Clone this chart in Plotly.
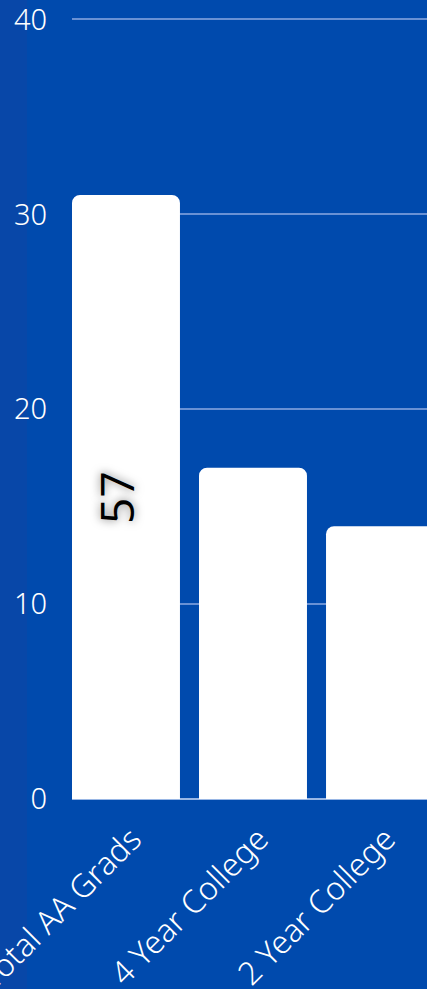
import plotly.graph_objects as go

categories = ["Total AA Grads", "4 Year College", "2 Year College"]
values = [31, 17, 14]
label_texts = ["57", "", ""]
label_positions = [15.5, None, None]
y_ticks = [0, 10, 20, 30, 40]

BG = "#004AAD"
FONT = "Open Sans"
LIGHT = "Noto Sans"

fig = go.Figure()
fig.add_trace(go.Bar(
    x=categories, y=values,
    marker=dict(color="white", line=dict(width=0)),
    hoverinfo="skip",
))

for c, t, p in zip(categories, label_texts, label_positions):
    if t and p is not None:
        fig.add_annotation(
            x=c, y=p, text=t, showarrow=False, textangle=-90, xshift=-10,
            font=dict(family=FONT, size=46, color="black",
                      shadow="0px 0px 10px rgba(0,0,0,0.55)"),
        )

fig.add_shape(type="rect", xref="paper", yref="paper",
              x0=-72/355, x1=-45/355, y0=-0.3, y1=1.1,
              fillcolor="#0847A8", line=dict(width=0), layer="below")

fig.update_layout(
    width=427, height=989,
    margin=dict(l=72, r=0, t=0, b=190, autoexpand=False),
    paper_bgcolor=BG, plot_bgcolor=BG,
    bargap=0.15,
    barcornerradius=8,
    showlegend=False,
    font=dict(family=FONT, color="white"),
    xaxis=dict(
        range=[-0.425, 2.37], tickangle=-45, automargin=False,
        tickfont=dict(family=LIGHT, size=32, color="white", weight=300),
        ticklabelstandoff=14, ticklabelshift=6, ticklabeloverflow="allow",
        showgrid=False, zeroline=False, showline=False,
        fixedrange=True,
    ),
    yaxis=dict(
        range=[0, 41], tickvals=y_ticks, automargin=False,
        tickfont=dict(family=LIGHT, size=29, color="white", weight=300),
        gridcolor="rgba(140,170,225,0.75)", gridwidth=1.5,
        zeroline=True, zerolinecolor="rgba(170,195,235,0.9)", zerolinewidth=2,
        ticklabelstandoff=24, ticklabeloverflow="allow",
        showline=False, fixedrange=True,
    ),
)

fig.write_html("out.html", config={"displayModeBar": False},
               post_script="document.body.style.margin='0';")
